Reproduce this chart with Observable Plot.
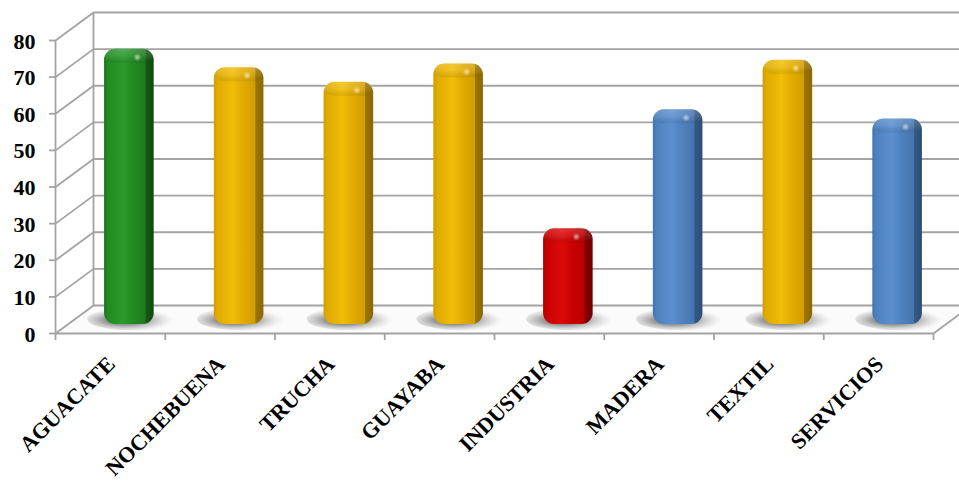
<!DOCTYPE html>
<html>
<head>
<meta charset="utf-8">
<script src="https://cdn.jsdelivr.net/npm/d3@7"></script>
<script src="https://cdn.jsdelivr.net/npm/@observablehq/plot@0.6"></script>
<style>
  html, body { margin: 0; padding: 0; background: #fff; overflow: hidden; }
  #chart svg { display: block; }
</style>
</head>
<body>
<div id="chart"></div>
<script>
// ---- data ----
const categories = ["AGUACATE", "NOCHEBUENA", "TRUCHA", "GUAYABA", "INDUSTRIA", "MADERA", "TEXTIL", "SERVICIOS"];
const values = [73, 68, 64, 69, 24, 56.5, 70, 54];
const yTicks = [0, 10, 20, 30, 40, 50, 60, 70, 80];

// ---- style ----
const barTone = ["green", "gold", "gold", "gold", "red", "blue", "gold", "blue"];
const tones = {
  green: ["#1a721a", "#218a21", "#2b9a2b", "#218a21", "#1c7a1c", "#145814", "#0f4a0f"],
  gold:  ["#cf9d00", "#e0aa00", "#f0bd08", "#e2ab00", "#d29e00", "#9c7500", "#8a6700"],
  red:   ["#b20000", "#c80000", "#dc0a0a", "#c90000", "#b80000", "#860000", "#720000"],
  blue:  ["#4373ad", "#4d80bd", "#5b90d0", "#4f81bd", "#4676b0", "#345a88", "#2c4d76"]
};

const W = 959, H = 482;
const mL = 55, mR = 26, mT = 40, mB = 149;
const PX_X = 8 / (W - mL - mR);      // x units per pixel
const PX_Y = 80 / (H - mT - mB);     // y units per pixel
const DX = 38 * PX_X;                // depth offset of the back wall
const DY = 28 * PX_Y;

const rows = categories.map((c, i) => ({i, c, v: values[i], tone: barTone[i]}));

const floorPts = [
  {x: 0, y1: 0, y2: 0},
  {x: DX, y1: 0, y2: DY},
  {x: 8, y1: 0, y2: DY},
  {x: 8 + DX, y1: DY, y2: DY}
];

const grid = "#a3a3a3";
const gw = 1.8;

const chart = Plot.plot({
  width: W, height: H,
  marginLeft: mL, marginRight: mR, marginTop: mT, marginBottom: mB,
  x: {domain: [0, 8], axis: null},
  y: {domain: [0, 80], axis: null},
  color: {type: "identity"},
  style: {fontFamily: "'Liberation Serif', 'Times New Roman', serif", fontWeight: "bold", background: "#fff", overflow: "visible"},
  marks: [
    // floor
    Plot.areaY(floorPts, {x: "x", y1: "y1", y2: "y2", fill: "#fbfbfb"}),
    // back wall gridlines
    Plot.ruleY(yTicks, {y: d => d + DY, x1: DX, x2: 8 + DX + 0.5, stroke: grid, strokeWidth: gw}),
    // back wall left edge
    Plot.ruleX([DX], {y1: DY, y2: 80 + DY, stroke: grid, strokeWidth: gw}),
    // side wall diagonals
    Plot.link(yTicks, {x1: 0, y1: d => d, x2: DX, y2: d => d + DY, stroke: grid, strokeWidth: gw}),
    // front vertical axis line
    Plot.ruleX([0], {y1: 0, y2: 80, stroke: grid, strokeWidth: gw}),
    // floor front edge and right edge
    Plot.ruleY([0], {x1: 0, x2: 8, stroke: grid, strokeWidth: 2.2}),
    Plot.link([0], {x1: 8, y1: 0, x2: 8 + DX, y2: DY, stroke: grid, strokeWidth: gw}),
    // y tick marks
    Plot.ruleY(yTicks, {y: d => d, x1: -6 * PX_X, x2: 0, stroke: grid, strokeWidth: gw}),
    // x tick marks
    Plot.ruleX(d3.range(categories.length + 1), {x: d => d, y1: 0, y2: -7 * PX_Y, stroke: grid, strokeWidth: gw}),
    // shadows
    Plot.rect(rows, {
      x1: d => d.i + 0.5 + 0.4 * DX - 38 * PX_X,
      x2: d => d.i + 0.5 + 0.6 * DX + 44 * PX_X,
      y1: 3 * PX_Y,
      y2: 25 * PX_Y,
      rx: 40, ry: 11,
      fill: "url(#shadowGrad)"
    }),
    // bars
    Plot.rect(rows, {
      x1: d => d.i + 0.5 + 0.4 * DX - 21 * PX_X,
      x2: d => d.i + 0.5 + 0.6 * DX + 21 * PX_X,
      y1: 9 * PX_Y,
      y2: d => d.v + 0.6 * DY,
      rx: 11, ry: 11,
      fill: d => `url(#grad-${d.tone})`
    }),
    // top cap highlight
    Plot.rect(rows, {
      x1: d => d.i + 0.5 + 0.4 * DX - 21 * PX_X,
      x2: d => d.i + 0.5 + 0.6 * DX + 21 * PX_X,
      y1: d => d.v + 0.6 * DY - 14 * PX_Y,
      y2: d => d.v + 0.6 * DY,
      rx: 11, ry: 11,
      fill: "url(#capGrad)"
    }),
    Plot.dot(rows, {
      x: d => d.i + 0.5 + 0.5 * DX + 8 * PX_X,
      y: d => d.v + 0.6 * DY - 8 * PX_Y,
      r: 4,
      fill: "url(#spotGrad)"
    }),
    // y tick labels
    Plot.text(yTicks, {x: 0, y: d => d, text: d => String(d), dx: -20, dy: 1, textAnchor: "end", fontSize: 22, fill: "#000"}),
    // category labels
    Plot.text(rows, {x: d => d.i + 0.5, y: 0, text: "c", dy: 27, dx: 1, rotate: -45, textAnchor: "end", fontSize: 22, fill: "#000"})
  ]
});

const svg = d3.select(chart.tagName.toLowerCase() === "svg" ? chart : chart.querySelector("svg"));
const defs = svg.insert("defs", ":first-child");
const offs = [0, 0.07, 0.38, 0.6, 0.83, 0.845, 1];
for (const [name, cols] of Object.entries(tones)) {
  const g = defs.append("linearGradient").attr("id", `grad-${name}`)
    .attr("x1", 0).attr("x2", 1).attr("y1", 0).attr("y2", 0);
  cols.forEach((c, k) => g.append("stop").attr("offset", offs[k]).attr("stop-color", c));
}
const cap = defs.append("linearGradient").attr("id", "capGrad").attr("x1", 0).attr("x2", 0).attr("y1", 0).attr("y2", 1);
cap.append("stop").attr("offset", 0).attr("stop-color", "#fff").attr("stop-opacity", 0.18);
cap.append("stop").attr("offset", 0.5).attr("stop-color", "#fff").attr("stop-opacity", 0.1);
cap.append("stop").attr("offset", 1).attr("stop-color", "#000").attr("stop-opacity", 0.08);
const spot = defs.append("radialGradient").attr("id", "spotGrad");
spot.append("stop").attr("offset", 0).attr("stop-color", "#fff").attr("stop-opacity", 0.6);
spot.append("stop").attr("offset", 1).attr("stop-color", "#fff").attr("stop-opacity", 0);
const sh = defs.append("radialGradient").attr("id", "shadowGrad").attr("cx", 0.42).attr("cy", 0.55).attr("r", 0.55);
sh.append("stop").attr("offset", 0).attr("stop-color", "#333").attr("stop-opacity", 0.85);
sh.append("stop").attr("offset", 0.4).attr("stop-color", "#555").attr("stop-opacity", 0.6);
sh.append("stop").attr("offset", 0.75).attr("stop-color", "#888").attr("stop-opacity", 0.25);
sh.append("stop").attr("offset", 1).attr("stop-color", "#bbb").attr("stop-opacity", 0);

document.getElementById("chart").appendChild(chart);
</script>
</body>
</html>
